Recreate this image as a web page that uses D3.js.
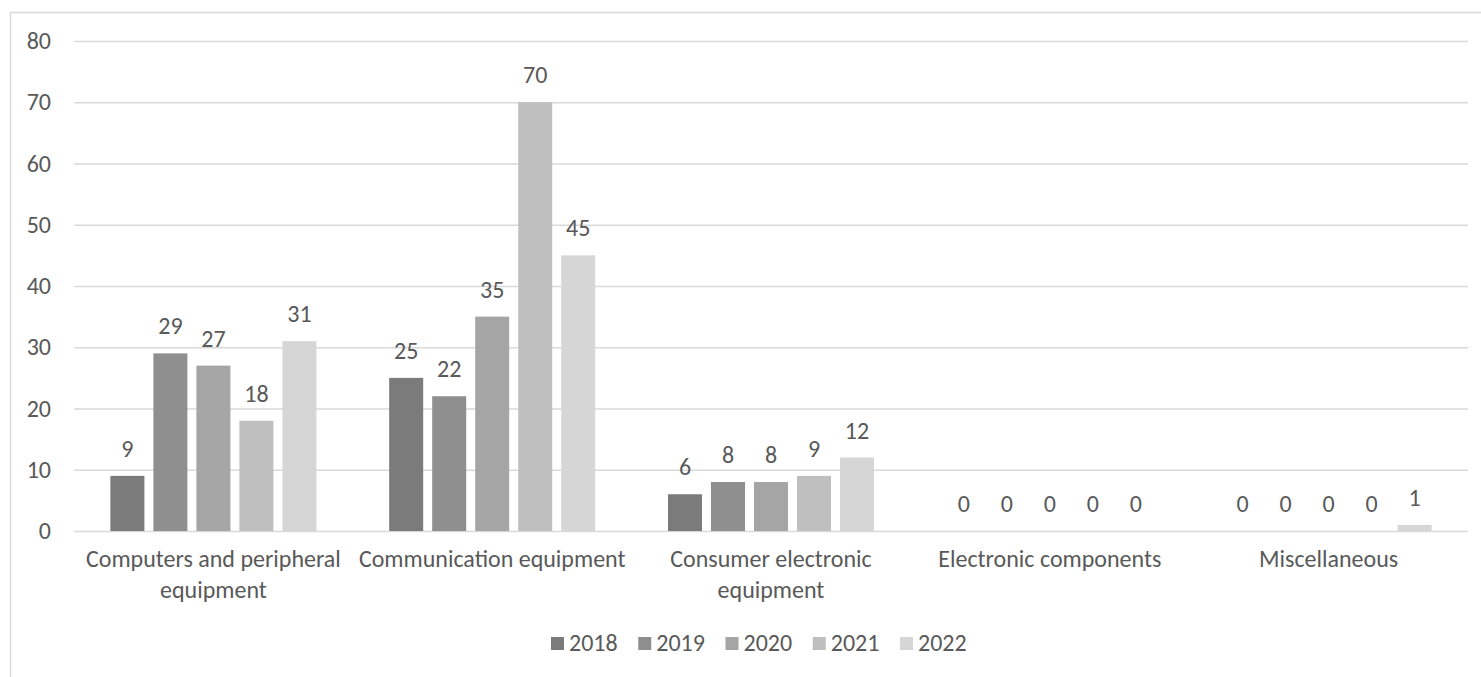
<!DOCTYPE html>
<html>
<head>
<meta charset="utf-8">
<title>Electronics by category</title>
<script src="https://cdnjs.cloudflare.com/ajax/libs/d3/7.8.5/d3.min.js"></script>
<style>
  body { margin: 0; background: #fff; }
  svg text { font-family: Carlito, Calibri, "Open Sans", sans-serif; fill: #595959; }
  .grid line { stroke: #d9d9d9; stroke-width: 1.5; }
</style>
</head>
<body>
<svg id="chart" width="1481" height="677"></svg>
<script>
// data
var categories = ["Computers and peripheral equipment", "Communication equipment",
  "Consumer electronic equipment", "Electronic components", "Miscellaneous"];
var categoryLines = [["Computers and peripheral", "equipment"], ["Communication equipment"],
  ["Consumer electronic", "equipment"], ["Electronic components"], ["Miscellaneous"]];
var years = ["2018", "2019", "2020", "2021", "2022"];
var v2018 = [9, 25, 6, 0, 0];
var v2019 = [29, 22, 8, 0, 0];
var v2020 = [27, 35, 8, 0, 0];
var v2021 = [18, 70, 9, 0, 0];
var v2022 = [31, 45, 12, 0, 1];
var yTicks = [0, 10, 20, 30, 40, 50, 60, 70, 80];
var colors = ["#7b7b7b", "#8f8f8f", "#a5a5a5", "#bfbfbf", "#d6d6d6"];

var seriesValues = [v2018, v2019, v2020, v2021, v2022];

var svg = d3.select("#chart");
var plotL = 74, plotR = 1468, plotT = 41, plotB = 531;
var fs = 24;

// chart border
svg.append("rect")
  .attr("x", 10.5).attr("y", 12.5)
  .attr("width", 1480).attr("height", 700)
  .attr("fill", "none").attr("stroke", "#d9d9d9").attr("stroke-width", 1.5);

var y = d3.scaleLinear().domain([0, 80]).range([plotB, plotT]);
var x0 = d3.scaleBand().domain(categories).range([plotL, plotR])
  .paddingInner(0.261).paddingOuter(0.1305);
var x1 = d3.scaleBand().domain(years).range([0, x0.bandwidth()])
  .paddingInner(0.2093).paddingOuter(0);

// y axis + gridlines
var yAxis = svg.append("g")
  .attr("class", "grid")
  .attr("transform", "translate(" + plotL + ",0)")
  .call(d3.axisLeft(y).tickValues(yTicks).tickSize(-(plotR - plotL)).tickPadding(23));
yAxis.select(".domain").remove();
yAxis.selectAll("text").style("font-size", fs + "px").attr("fill", "#595959")
  .attr("font-family", null);

// bars
var groups = svg.selectAll(".series").data(years).enter().append("g")
  .attr("fill", function(d, i) { return colors[i]; });

groups.each(function(yr, si) {
  var g = d3.select(this);
  var vals = seriesValues[si];
  g.selectAll("rect").data(vals).enter().append("rect")
    .attr("x", function(d, ci) { return x0(categories[ci]) + x1(yr); })
    .attr("y", function(d) { return y(d); })
    .attr("width", x1.bandwidth())
    .attr("height", function(d) { return y(0) - y(d); });
  g.selectAll("text").data(vals).enter().append("text")
    .attr("x", function(d, ci) { return x0(categories[ci]) + x1(yr) + x1.bandwidth() / 2; })
    .attr("y", function(d) { return y(d) - 19; })
    .attr("text-anchor", "middle")
    .style("font-size", fs + "px")
    .text(function(d) { return d; });
});

// x axis labels
var xAxis = svg.append("g")
  .attr("transform", "translate(0," + plotB + ")")
  .call(d3.axisBottom(x0).tickSize(0).tickFormat(""));
xAxis.select(".domain").remove();
xAxis.selectAll(".tick").each(function(d, i) {
  var t = d3.select(this).append("text")
    .attr("text-anchor", "middle")
    .style("font-size", fs + "px");
  categoryLines[i].forEach(function(line, li) {
    t.append("tspan").attr("x", 0).attr("y", 36 + li * 31).text(line);
  });
});

// legend
var legend = svg.append("g");
var lx = d3.scalePoint().domain(years).range([551, 900]);
years.forEach(function(yr, i) {
  legend.append("rect")
    .attr("x", lx(yr)).attr("y", 637)
    .attr("width", 13).attr("height", 13)
    .attr("fill", colors[i]);
  legend.append("text")
    .attr("x", lx(yr) + 18).attr("y", 651)
    .style("font-size", fs + "px")
    .text(yr);
});
</script>
</body>
</html>
